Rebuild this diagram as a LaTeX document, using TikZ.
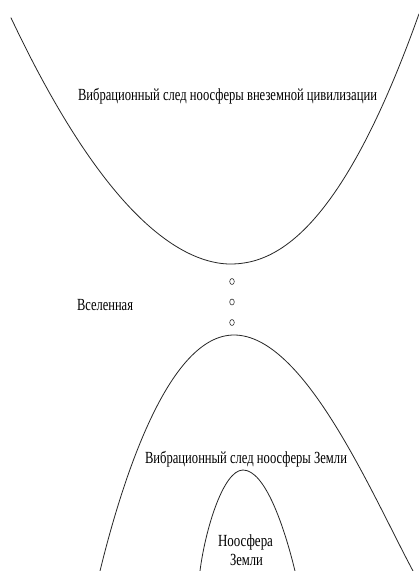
\documentclass[tikz,border=0pt]{standalone}
\usepackage{fontspec}
\setmainfont{Liberation Serif}
\usepackage{graphicx}
\usetikzlibrary{shapes.geometric}
\newcommand{\fittxt}[2]{\resizebox{#1pt}{\height}{\fontsize{17}{20}\selectfont #2}}
\begin{document}
\begin{tikzpicture}[x=1pt,y=-1pt,
  curve/.style={line width=0.8pt, black!85, line join=round, line cap=round},
  lbl/.style={inner sep=0pt, outer sep=0pt, anchor=base west},
  dot/.style={draw, black!80, line width=0.6pt, ellipse, minimum width=4.6pt, minimum height=6pt, inner sep=0pt}]
\useasboundingbox (0,0) rectangle (419,571);
\fill[white] (0,0) rectangle (419,571);
% top curve (vertex at 230,264)
\coordinate (tv) at (230,264);
\draw[curve] plot[domain=11:230, samples=90, smooth] (\x, {264 - 56.4*pow(max((230-\x)/100,0.001),1.88)})
  -- plot[domain=230:419, samples=90, smooth] (\x, {264 - 64.9*pow(max((\x-230)/100,0.001),2.12)});
% lower big arch
\coordinate (bl) at (100,571);
\coordinate (bv) at (234,335);
\coordinate (br) at (413,571);
\draw[curve] (bl) .. controls (122,481) and (168,335) .. (bv)
  .. controls (304,335) and (370.4,491) .. (br);
% inner arch
\coordinate (il) at (200,571);
\coordinate (iv) at (243,470);
\coordinate (ir) at (295,571);
\draw[curve] (il) .. controls (205,531) and (223,470) .. (iv)
  .. controls (265,470) and (284.2,526.4) .. (ir);
% dots
\node[dot] (d1) at (232,281.5) {};
\node[dot] (d2) at (232,302) {};
\node[dot] (d3) at (232,322.5) {};
% labels
\node[lbl] (t1) at (78,100.7) {\fittxt{299}{Вибрационный след ноосферы внеземной цивилизации}};
\node[lbl] (t2) at (77,310) {\fittxt{56}{Вселенная}};
\node[lbl] (t3) at (145,463) {\fittxt{202}{Вибрационный след ноосферы Земли}};
\node[lbl] (t4) at (218,546) {\fittxt{55}{Ноосфера}};
\node[lbl] (t5) at (230,565) {\fittxt{33}{Земли}};
\end{tikzpicture}
\end{document}
